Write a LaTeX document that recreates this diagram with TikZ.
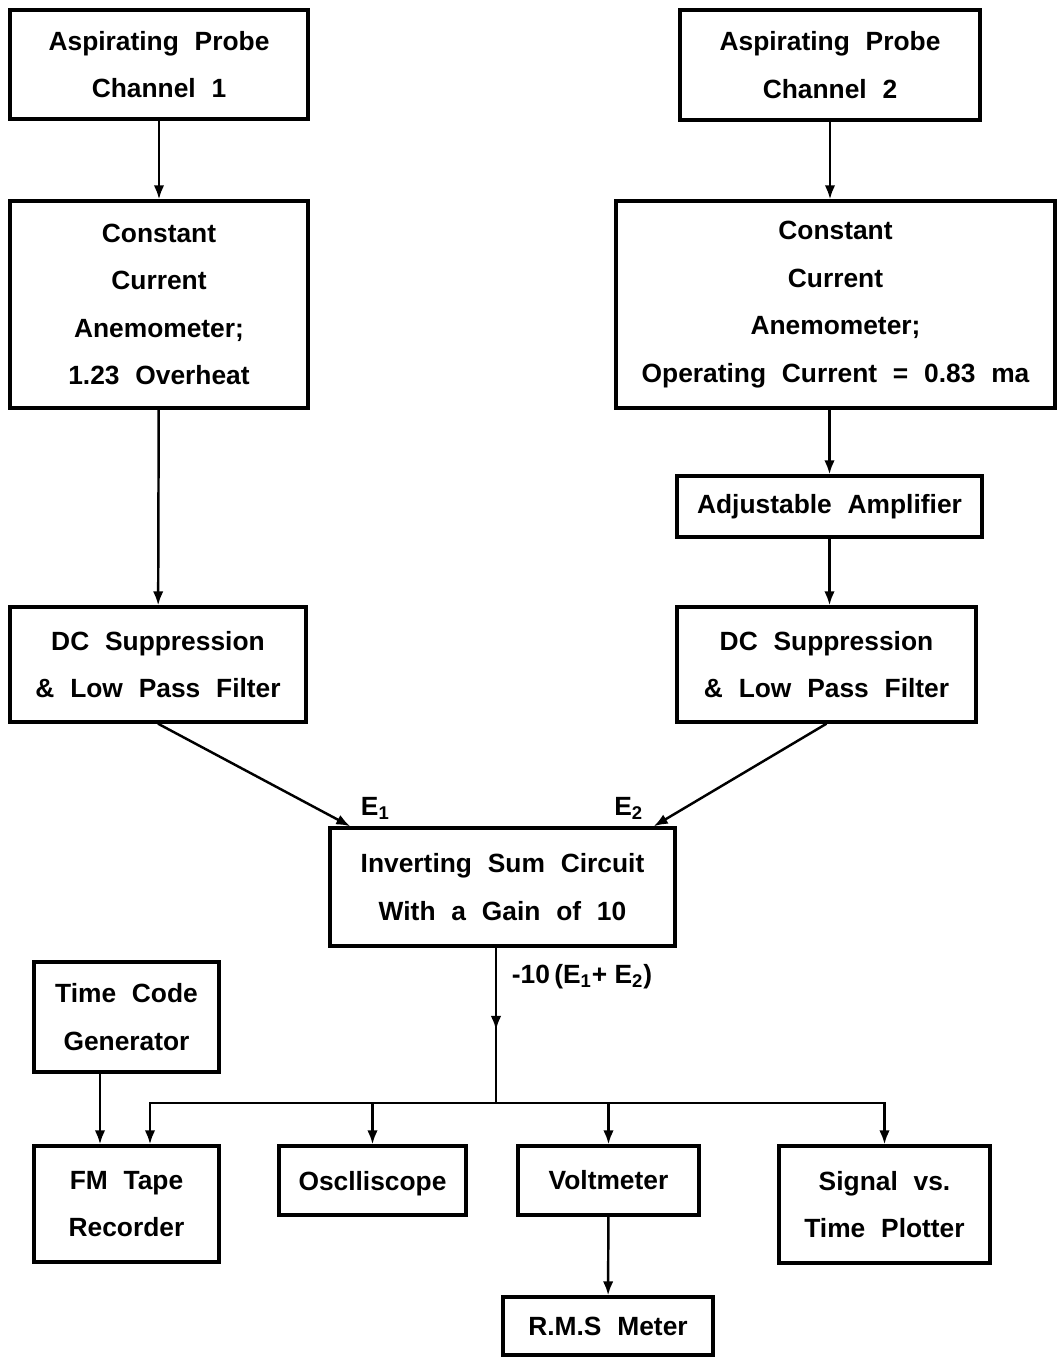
\documentclass[tikz,border=0pt]{standalone}
\usepackage{fontspec}
\setmainfont{Liberation Sans}
\usetikzlibrary{arrows.meta}
\newcommand\boxfont{\fontsize{15}{27}\selectfont\bfseries\spaceskip=0.6em plus 0.2em\relax}

\begin{document}
\begin{tikzpicture}[
  box/.style={draw, line width=1.9pt, align=center, inner sep=0pt, font=\boxfont},
  arr/.style={-{Latex[length=8pt,width=6pt]}, line width=1.4pt},
  lbl/.style={font=\fontsize{15}{20}\selectfont\bfseries}]
\useasboundingbox (0,0) rectangle (21.14,-27.16);
% Channel 1
\node[box, minimum width=5.96cm, minimum height=2.18cm] (probeA) at (3.18,-1.29) {Aspirating Probe\\Channel 1};
\node[box, minimum width=5.96cm, minimum height=4.14cm] (ccaA) at (3.18,-6.09) {Constant\\Current\\Anemometer;\\1.23 Overheat};
\node[box, minimum width=5.92cm, minimum height=2.3cm] (dcA) at (3.16,-13.29) {DC Suppression\\\& Low Pass Filter};
% Channel 2
\node[box, minimum width=6cm, minimum height=2.2cm] (probeB) at (16.6,-1.3) {Aspirating Probe\\Channel 2};
\node[box, minimum width=8.78cm, minimum height=4.14cm] (ccaB) at (16.71,-6.09) {Constant\\Current\\Anemometer;\\Operating Current = 0.83 ma};
\node[box, minimum width=6.1cm, minimum height=1.22cm] (amp) at (16.59,-10.13) {Adjustable Amplifier};
\node[box, minimum width=5.98cm, minimum height=2.3cm] (dcB) at (16.53,-13.29) {DC Suppression\\\& Low Pass Filter};
% Sum and outputs
\node[box, minimum width=6.9cm, minimum height=2.36cm] (sum) at (10.05,-17.74) {Inverting Sum Circuit\\With a Gain of 10};
\node[box, minimum width=3.7cm, minimum height=2.2cm] (timecode) at (2.53,-20.34) {Time Code\\Generator};
\node[box, minimum width=3.7cm, minimum height=2.32cm] (fm) at (2.53,-24.08) {FM Tape\\Recorder};
\node[box, minimum width=3.74cm, minimum height=1.38cm, text depth=0pt] (osc) at (7.45,-23.61) {Osclliscope};
\node[box, minimum width=3.62cm, minimum height=1.38cm] (volt) at (12.17,-23.61) {Voltmeter};
\node[box, minimum width=4.22cm, minimum height=2.34cm] (signal) at (17.69,-24.09) {Signal vs.\\Time Plotter};
\node[box, minimum width=4.2cm, minimum height=1.16cm] (rms) at (12.16,-26.52) {R.M.S Meter};
\coordinate (tap) at (9.92,-20.6);
\coordinate (split) at (9.92,-22.06);
% Arrows
\draw[arr] (probeA) -- (ccaA);
\draw[arr] (ccaA) -- (dcA);
\draw[arr] (probeB.south) -- (probeB.south |- ccaB.north);
\draw[arr] (amp.north |- ccaB.south) -- (amp.north);
\draw[arr] (amp.south) -- (amp.south |- dcB.north);
\draw[arr] (dcA.south) -- ([xshift=0.44cm]sum.north west) node[lbl, above right, xshift=2pt] {E\textsubscript{1}};
\draw[arr] (dcB.south) -- ([xshift=-0.46cm]sum.north east) node[lbl, above left, xshift=-2pt] {E\textsubscript{2}};
\draw[line width=1.4pt] (sum.south -| tap) -- (split);
\draw[arr] (sum.south -| tap) -- node[lbl, right, pos=0.35, xshift=5pt] {-10\,(E\textsubscript{1}+ E\textsubscript{2})} (tap);
\draw[arr] (split) -| ([xshift=0.47cm]fm.north);
\foreach \dev in {osc, volt, signal}
  \draw[arr] (split) -| (\dev.north);
\draw[arr] ([xshift=-0.53cm]timecode.south) -- ([xshift=-0.53cm]fm.north);
\draw[arr] (volt) -- (rms);
\end{tikzpicture}
\end{document}
